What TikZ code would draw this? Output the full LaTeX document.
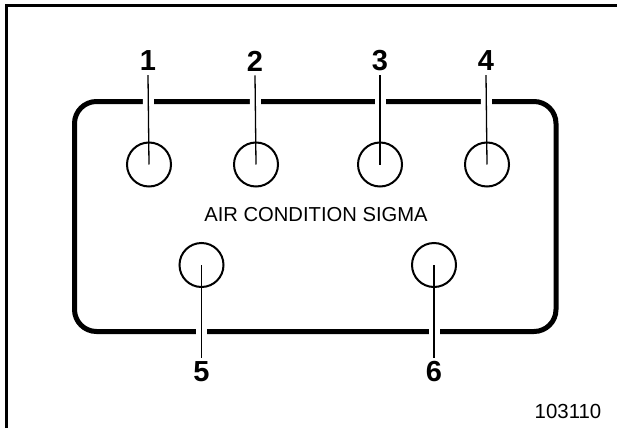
\documentclass[tikz,border=0pt]{standalone}
\usepackage{fontspec}
\setmainfont{Liberation Sans}
\begin{document}
\begin{tikzpicture}[x=1pt,y=-1pt,
  port/.style={circle,draw,line width=2pt,minimum size=44pt,inner sep=0pt},
  num/.style={font=\bfseries\fontsize{29}{30}\selectfont,inner sep=4pt},
  leader/.style={line width=1.3pt,preaction={draw=white,line width=11pt}},
  frameline/.style={line width=3.5pt},
  panel/.style={line width=5pt,rounded corners=22pt}]
\useasboundingbox (0,0) rectangle (617,428);
% outer frame (left and top)
\draw[frameline] (6.5,428) -- (6.5,5.5) -- (617,5.5);
% panel
\draw[panel] (74.5,101.5) rectangle (556,331.5);
% ports
\coordinate (p1) at (149,164.5);
\coordinate (p2) at (256,164.5);
\coordinate (p3) at (380,164.5);
\coordinate (p4) at (487,164.5);
\coordinate (p5) at (201.5,265);
\coordinate (p6) at (434,265);
% labels
\node[num] (l1) at (148,61) {1};
\node[num] (l2) at (255,61) {2};
\node[num] (l3) at (380,61) {3};
\node[num] (l4) at (486,61) {4};
\node[num] (l5) at (201.5,372) {5};
\node[num] (l6) at (434,372) {6};
% leaders
\draw[leader] (l1.south) -- (p1);
\draw[leader] (l2.south) -- (p2);
\draw[leader] (l3.south) -- (p3);
\draw[leader] (l4.south) -- (p4);
\draw[leader] (l5.north) -- (p5);
\draw[leader] (l6.north) -- (p6);
% circles
\node[port] (c1) at (p1) {};
\node[port] (c2) at (p2) {};
\node[port] (c3) at (p3) {};
\node[port] (c4) at (p4) {};
\node[port] (c5) at (p5) {};
\node[port] (c6) at (p6) {};
% texts
\node[font=\fontsize{20.2}{24}\selectfont,inner sep=0pt] (title) at (316,214.5) {AIR CONDITION SIGMA};
\node[font=\fontsize{20.4}{24}\selectfont,inner sep=0pt] (ref) at (568,411.5) {103110};
\end{tikzpicture}
\end{document}
